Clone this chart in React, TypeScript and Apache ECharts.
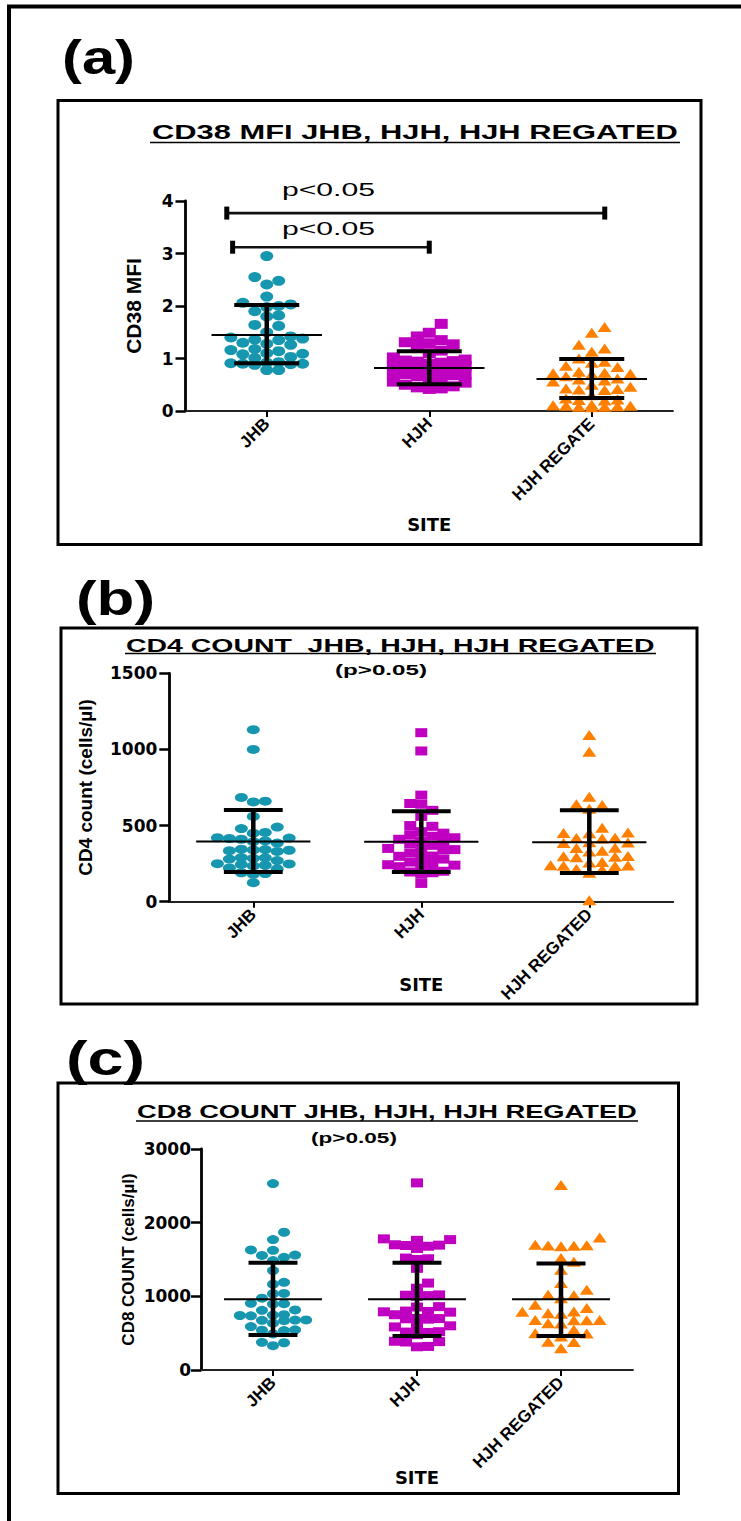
import React, { useEffect, useRef } from "react";
import * as echarts from "echarts";

// ---------- DATA ----------
const CATS_A = ["JHB", "HJH", "HJH REGATE"];
const CATS_BC = ["JHB", "HJH", "HJH REGATED"];

// (a) CD38 MFI
const CD38_JHB = [2.95, 2.55, 2.48, 2.41, 2.18, 2.06, 2.03, 2.0, 1.98, 1.9, 1.82, 1.8, 1.64, 1.62, 1.5, 1.42, 1.4, 1.38, 1.36, 1.35, 1.3, 1.28, 1.26, 1.18, 1.16, 1.14, 1.1, 1.09, 1.08, 1.03, 1.01, 0.93, 0.92, 0.91, 0.9, 0.9, 0.89, 0.88, 0.78, 0.78];
const CD38_HJH = [1.66, 1.49, 1.42, 1.35, 1.31, 1.29, 1.27, 1.24, 1.15, 1.1, 1.02, 0.98, 0.96, 0.95, 0.94, 0.92, 0.9, 0.88, 0.86, 0.84, 0.82, 0.8, 0.78, 0.75, 0.72, 0.7, 0.7, 0.68, 0.66, 0.62, 0.58, 0.56, 0.54, 0.5, 0.47, 0.45, 0.43, 0.42];
const CD38_REG = [1.6, 1.49, 1.26, 1.19, 1.13, 1.0, 0.94, 0.92, 0.86, 0.84, 0.75, 0.73, 0.72, 0.71, 0.7, 0.66, 0.62, 0.6, 0.58, 0.56, 0.5, 0.46, 0.43, 0.42, 0.41, 0.4, 0.3, 0.24, 0.22, 0.21, 0.2, 0.12, 0.11, 0.1, 0.1, 0.09, 0.08, 0.08, 0.07];
const CD38_MEAN = [1.45, 0.82, 0.61];
const CD38_SD_LO = [0.91, 0.51, 0.25];
const CD38_SD_HI = [2.02, 1.14, 0.99];

// significance brackets in (a)
const BRACKET_X1 = [0.754, 0.79];
const BRACKET_X2 = [3.08, 2.0];
const BRACKET_Y = [3.77, 3.12];
const BRACKET_LABELS = ["p<0.05", "p<0.05"];

// (b) CD4 count
const CD4_JHB = [1130, 1000, 685, 660, 655, 560, 490, 480, 455, 450, 420, 418, 415, 410, 400, 395, 385, 345, 342, 340, 338, 335, 330, 290, 288, 285, 280, 270, 250, 248, 245, 240, 235, 222, 215, 190, 185, 180, 125];
const CD4_HJH = [1110, 990, 700, 645, 640, 600, 560, 500, 495, 460, 450, 440, 430, 420, 410, 400, 395, 380, 370, 350, 345, 342, 340, 320, 300, 298, 290, 280, 260, 245, 243, 240, 235, 230, 200, 195, 190, 180, 120];
const CD4_REG = [1095, 985, 690, 640, 635, 610, 485, 455, 452, 450, 420, 418, 415, 390, 388, 385, 355, 352, 335, 330, 300, 298, 295, 292, 260, 258, 240, 238, 236, 235, 215, 212, 190, 10];
const CD4_MEAN = [395, 393, 390];
const CD4_SD_LO = [195, 195, 189];
const CD4_SD_HI = [603, 594, 600];

// (c) CD8 count
const CD8_JHB = [2530, 1870, 1770, 1630, 1625, 1560, 1555, 1530, 1485, 1350, 1190, 1165, 1040, 1035, 975, 905, 900, 895, 815, 810, 750, 745, 740, 735, 680, 678, 675, 670, 635, 590, 545, 540, 535, 490, 375, 370, 330];
const CD8_HJH = [2540, 1780, 1770, 1760, 1700, 1695, 1690, 1680, 1650, 1520, 1510, 1500, 1380, 1180, 1110, 1020, 1015, 1010, 1000, 860, 855, 800, 795, 790, 785, 750, 700, 698, 695, 690, 600, 590, 585, 520, 515, 510, 480, 390, 385, 380, 320, 315];
const CD8_REG = [2510, 1800, 1700, 1695, 1690, 1685, 1680, 1520, 1470, 1360, 1180, 1090, 1020, 1015, 975, 885, 840, 795, 790, 770, 765, 680, 678, 676, 674, 635, 630, 545, 500, 495, 455, 385, 380, 295];
const CD8_MEAN = [960, 960, 960];
const CD8_SD_LO = [475, 461, 461];
const CD8_SD_HI = [1456, 1456, 1447];

// ---------- STYLE / LAYOUT ----------
const COLORS = ["#1797AF", "#C000C0", "#FF8000"];
const SYMBOLS = ["circle", "rect", "triangle"];
const FONT = "Liberation Sans, Arial, sans-serif";
const TICKFONT = "DejaVu Sans, sans-serif";

const PANELS = [
  {
    grid: { left: 185.5, top: 201, width: 487.5, height: 210 },
    yMax: 4, yInt: 1, cats: CATS_A,
    groups: [CD38_JHB, CD38_HJH, CD38_REG],
    mean: CD38_MEAN, lo: CD38_SD_LO, hi: CD38_SD_HI,
    sizes: [[13, 10], [13, 10], [14, 10]],
    capHalf: 0.2, yName: "CD38 MFI", yNameGap: 42, yNameSize: 21,
    siteGap: 104, labelMargin: 12,
  },
  {
    grid: { left: 169.3, top: 673.3, width: 504, height: 228.4 },
    yMax: 1500, yInt: 500, cats: CATS_BC,
    groups: [CD4_JHB, CD4_HJH, CD4_REG],
    mean: CD4_MEAN, lo: CD4_SD_LO, hi: CD4_SD_HI,
    sizes: [[13, 9], [12, 9], [14, 10]],
    capHalf: 0.175, yName: "CD4 count (cells/µl)", yNameGap: 74, yNameSize: 19,
    siteGap: 74, labelMargin: 12,
  },
  {
    grid: { left: 201, top: 1149, width: 432, height: 221 },
    yMax: 3000, yInt: 1000, cats: CATS_BC,
    groups: [CD8_JHB, CD8_HJH, CD8_REG],
    mean: CD8_MEAN, lo: CD8_SD_LO, hi: CD8_SD_HI,
    sizes: [[12, 9], [12, 9], [14, 10]],
    capHalf: 0.17, yName: "CD8 COUNT (cells/µl)", yNameGap: 64, yNameSize: 17,
    siteGap: 98, labelMargin: 10,
  },
];

// beeswarm-style horizontal arrangement (layout only; values untouched)
function swarm(vals: number[], cat: number, pxX: number, pxY: number, w: number, h: number) {
  const order = vals.map((_, i) => i).sort((a, b) => vals[a] - vals[b]);
  const placed: { x: number; y: number }[] = [];
  const res: number[][] = [];
  const step = w * 0.92;
  for (const i of order) {
    const y = vals[i] * pxY;
    let best = 0;
    let bestCost = Infinity;
    for (let k = 0; k < 7; k++) {
      const off = k === 0 ? 0 : (k % 2 ? 1 : -1) * Math.ceil(k / 2) * step;
      let cost = 0;
      for (const p of placed) {
        const dx = Math.abs(p.x - off);
        const dy = Math.abs(p.y - y);
        if (dx < step * 0.99 && dy < h * 0.9) cost += h * 0.9 - dy;
      }
      if (cost === 0) { best = off; bestCost = 0; break; }
      if (cost < bestCost) { bestCost = cost; best = off; }
    }
    placed.push({ x: best, y });
    res.push([cat + best / pxX, vals[i]]);
  }
  return res;
}

let measureCtx: CanvasRenderingContext2D | null = null;
function textWidth(text: string, font: string) {
  if (!measureCtx) measureCtx = document.createElement("canvas").getContext("2d");
  if (!measureCtx) return text.length * 10;
  measureCtx.font = font;
  return measureCtx.measureText(text).width;
}

function fitText(text: string, left: number, cy: number, width: number, font: string, fill = "#000") {
  const w = textWidth(text, font);
  return {
    type: "text", x: left, y: cy, scaleX: width / w, z: 100,
    style: { text, font, fill, align: "left", verticalAlign: "middle", textAlign: "left", textVerticalAlign: "middle" },
  };
}
function hline(x1: number, x2: number, y: number, lw: number) {
  return { type: "line", z: 100, shape: { x1, y1: y, x2, y2: y }, style: { stroke: "#000", lineWidth: lw } };
}

function buildOption() {
  const grids: any[] = [];
  const xAxes: any[] = [];
  const yAxes: any[] = [];
  const series: any[] = [];

  PANELS.forEach((p, pi) => {
    grids.push({ ...p.grid, containLabel: false });
    xAxes.push({
      type: "value", gridIndex: pi, min: 0.5, max: 3.5,
      axisLine: { show: true, onZero: false, lineStyle: { color: "#222", width: 1.8 } },
      axisTick: { show: true, customValues: [1, 2, 3], length: 6, lineStyle: { color: "#000", width: 2 } },
      axisLabel: {
        show: true, customValues: [1, 2, 3], rotate: 45, margin: 10,
        formatter: (v: number) => p.cats[Math.round(v) - 1] || "",
        fontFamily: FONT, fontWeight: "bold", fontSize: 17, color: "#000",
      },
      splitLine: { show: false },
      name: "SITE", nameLocation: "middle", nameGap: p.siteGap, nameMoveOverlap: false,
      nameTextStyle: { fontFamily: TICKFONT, fontWeight: "bold", fontSize: 18, color: "#000", verticalAlign: "top" },
    });
    yAxes.push({
      type: "value", gridIndex: pi, min: 0, max: p.yMax, interval: p.yInt,
      axisLine: { show: true, lineStyle: { color: "#000", width: 2.8 } },
      axisTick: { show: true, length: 10, lineStyle: { color: "#000", width: 2.5 } },
      axisLabel: {
        show: true, margin: p.labelMargin, fontFamily: TICKFONT, fontWeight: "bold", fontSize: 17, color: "#000",
        formatter: (v: number) => String(v),
      },
      splitLine: { show: false },
      name: p.yName, nameLocation: "middle", nameRotate: 90, nameGap: p.yNameGap, nameMoveOverlap: false,
      nameTextStyle: { fontFamily: FONT, fontWeight: "bold", fontSize: p.yNameSize, color: "#000" },
    });
    const pxX = p.grid.width / 3;
    const pxY = p.grid.height / p.yMax;
    p.groups.forEach((vals, gi) => {
      const [w, h] = p.sizes[gi];
      series.push({
        type: "scatter", xAxisIndex: pi, yAxisIndex: pi, z: 2,
        symbol: SYMBOLS[gi], symbolSize: [w, h],
        itemStyle: { color: COLORS[gi], opacity: 1 },
        data: swarm(vals, gi + 1, pxX, pxY, w, h),
        silent: true,
      });
    });
    const capHalf = p.capHalf;
    series.push({
      type: "custom", xAxisIndex: pi, yAxisIndex: pi, z: 10, silent: true,
      encode: { x: 0, y: 1 },
      data: p.mean.map((m, i) => [i + 1, m, p.lo[i], p.hi[i]]),
      renderItem: (params: any, api: any) => {
        const c = api.value(0), m = api.value(1), lo = api.value(2), hi = api.value(3);
        const a = api.coord([c - 0.34, m]), b = api.coord([c + 0.34, m]);
        const t = api.coord([c, hi]), bt = api.coord([c, lo]);
        const cl = api.coord([c - capHalf, hi]), cr = api.coord([c + capHalf, hi]);
        const dl = api.coord([c - capHalf, lo]), dr = api.coord([c + capHalf, lo]);
        return {
          type: "group",
          children: [
            { type: "line", shape: { x1: a[0], y1: a[1], x2: b[0], y2: b[1] }, style: { stroke: "#000", lineWidth: 2 } },
            { type: "line", shape: { x1: t[0], y1: t[1], x2: bt[0], y2: bt[1] }, style: { stroke: "#000", lineWidth: 4.5 } },
            { type: "line", shape: { x1: cl[0], y1: cl[1], x2: cr[0], y2: cr[1] }, style: { stroke: "#000", lineWidth: 4 } },
            { type: "line", shape: { x1: dl[0], y1: dl[1], x2: dr[0], y2: dr[1] }, style: { stroke: "#000", lineWidth: 4 } },
          ],
        };
      },
    });
  });

  // significance brackets in panel (a)
  series.push({
    type: "custom", xAxisIndex: 0, yAxisIndex: 0, z: 10, silent: true,
    encode: { x: 0, y: 2 },
    data: BRACKET_X1.map((x1, i) => [x1, BRACKET_X2[i], BRACKET_Y[i]]),
    renderItem: (params: any, api: any) => {
      const l = api.coord([api.value(0), api.value(2)]);
      const r = api.coord([api.value(1), api.value(2)]);
      return {
        type: "group",
        children: [
          { type: "line", shape: { x1: l[0], y1: l[1], x2: r[0], y2: r[1] }, style: { stroke: "#111", lineWidth: 2.6 } },
          { type: "line", shape: { x1: l[0], y1: l[1] - 6.5, x2: l[0], y2: l[1] + 6.5 }, style: { stroke: "#000", lineWidth: 5 } },
          { type: "line", shape: { x1: r[0], y1: r[1] - 6.5, x2: r[0], y2: r[1] + 6.5 }, style: { stroke: "#000", lineWidth: 5 } },
        ],
      };
    },
  });

  const graphic: any[] = [
    // outer frame
    { type: "polyline", z: 100, shape: { points: [[9, 1521], [9, 6.5], [741, 6.5]] }, style: { stroke: "#000", lineWidth: 4, fill: "none" } },
    // panel boxes
    { type: "rect", z: 100, shape: { x: 58, y: 100.5, width: 643, height: 444 }, style: { stroke: "#000", lineWidth: 3, fill: "none" } },
    { type: "rect", z: 100, shape: { x: 61, y: 628, width: 636, height: 376 }, style: { stroke: "#000", lineWidth: 3, fill: "none" } },
    { type: "rect", z: 100, shape: { x: 58, y: 1083, width: 620.5, height: 410.5 }, style: { stroke: "#000", lineWidth: 3, fill: "none" } },
    // panel letters
    fitText("(a)", 62, 57, 73, `bold 48px ${FONT}`),
    fitText("(b)", 76, 599, 79, `bold 48px ${FONT}`),
    fitText("(c)", 66, 1058, 79, `bold 48px ${FONT}`),
    // titles
    fitText("CD38 MFI JHB, HJH, HJH REGATED", 152, 132, 526, `bold 20px ${FONT}`),
    hline(150, 680, 142.5, 1.5),
    fitText("CD4 COUNT  JHB, HJH, HJH REGATED", 126, 645, 529, `bold 19px ${FONT}`),
    hline(125, 656, 653.5, 1.5),
    fitText("(p>0.05)", 335, 670, 92, `bold 15px ${FONT}`),
    fitText("CD8 COUNT JHB, HJH, HJH REGATED", 137, 1112, 500, `bold 18px ${FONT}`),
    hline(136, 638, 1121, 1.5),
    fitText("(p>0.05)", 311, 1138, 86, `bold 15px ${FONT}`),
    // bracket labels
    fitText(BRACKET_LABELS[0], 282, 190, 93, `18px ${FONT}`),
    fitText(BRACKET_LABELS[1], 282, 229, 93, `18px ${FONT}`),
  ];

  return {
    animation: false,
    backgroundColor: "#fff",
    grid: grids,
    xAxis: xAxes,
    yAxis: yAxes,
    series,
    graphic,
  };
}

export default function App() {
  const ref = useRef<HTMLDivElement>(null);
  useEffect(() => {
    if (!ref.current) return;
    const chart = echarts.init(ref.current, null, { renderer: "svg" });
    chart.setOption(buildOption() as any);
    return () => chart.dispose();
  }, []);
  return (
    <div
      ref={ref}
      style={{ position: "absolute", left: 0, top: 0, width: 741, height: 1521, background: "#fff" }}
    />
  );
}
